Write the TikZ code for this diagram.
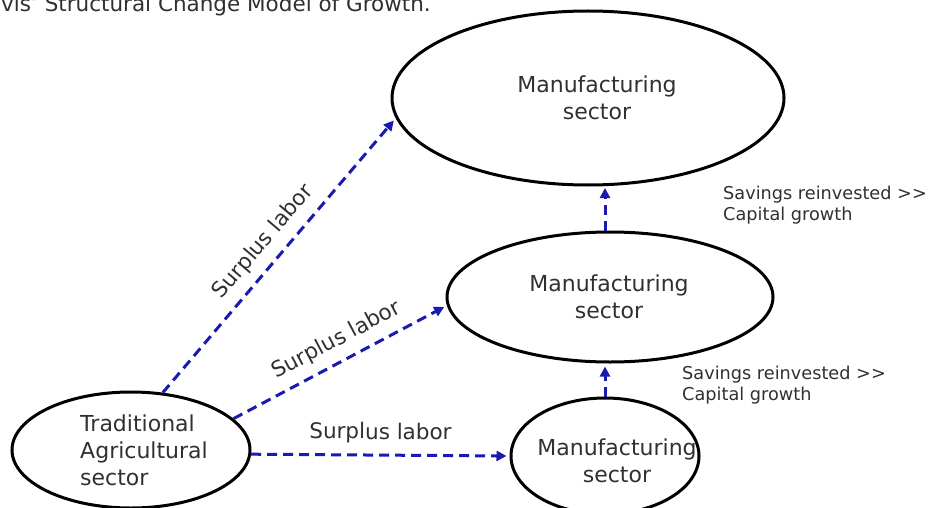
\documentclass[tikz,border=0pt]{standalone}
\usepackage{fontspec}
\setmainfont{DejaVu Sans}
\usetikzlibrary{shapes.geometric,arrows.meta}
\definecolor{txt}{HTML}{303030}
\definecolor{arr}{HTML}{1A1AB0}
\tikzset{
  sect/.style={ellipse, draw=black, line width=3pt, inner sep=0pt},
  flow/.style={draw=arr, line width=3pt, dash pattern=on 10pt off 6pt, shorten >=3pt, -{Triangle[length=10pt,width=10pt]}},
  big/.style={font=\fontsize{22}{27}\selectfont, text=txt, align=center, inner sep=0pt},
  small/.style={font=\fontsize{17.7}{21}\selectfont, text=txt, align=left},
  lab/.style={font=\fontsize{21.5}{26}\selectfont, text=txt, sloped, inner sep=0pt}
}
\begin{document}
\begin{tikzpicture}[x=1pt,y=-1pt]
\useasboundingbox (0,0) rectangle (928,508);
\clip (0,0) rectangle (928,508);
\node[anchor=base west, inner sep=0pt, font=\fontsize{21.5}{26}\selectfont, text=txt] (title) at (1,12) {vis' Structural Change Model of Growth.};
\node[sect, minimum width=392pt, minimum height=174pt] (top) at (588,98) {};
\node[big] (toptext) at (597,98) {Manufacturing\\sector};
\node[sect, minimum width=326pt, minimum height=130pt] (mid) at (610,297) {};
\node[big] (midtext) at (609,297) {Manufacturing\\sector};
\node[sect, minimum width=188pt, minimum height=116pt] (bot) at (605,456) {};
\node[big] (bottext) at (617,461) {Manufacturing\\sector};
\node[sect, minimum width=238pt, minimum height=116pt] (agr) at (131,450) {};
\node[big, align=left] (agrtext) at (144,450) {Traditional\\Agricultural\\sector};
\draw[flow] (agr.61) -- node[lab, pos=0.50, above=9pt] (l1) {Surplus labor} (top.186);
\draw[flow] (agr.17) -- node[lab, pos=0.53, above=9pt] (l2) {Surplus labor} (mid.183);
\draw[flow] (agr.-2) -- node[lab, midway, above=10pt] (l3) {Surplus labor} (bot.west);
\draw[flow] (bot.north) -- (bot.north |- mid.south);
\draw[flow] (mid.north -| 605,0) -- (605,185);
\node[small, anchor=north west, inner sep=0pt] (s1) at (723,186) {Savings reinvested {>}{>}\\Capital growth};
\node[small, anchor=north west, inner sep=0pt] (s2) at (682,366) {Savings reinvested {>}{>}\\Capital growth};
\end{tikzpicture}
\end{document}
